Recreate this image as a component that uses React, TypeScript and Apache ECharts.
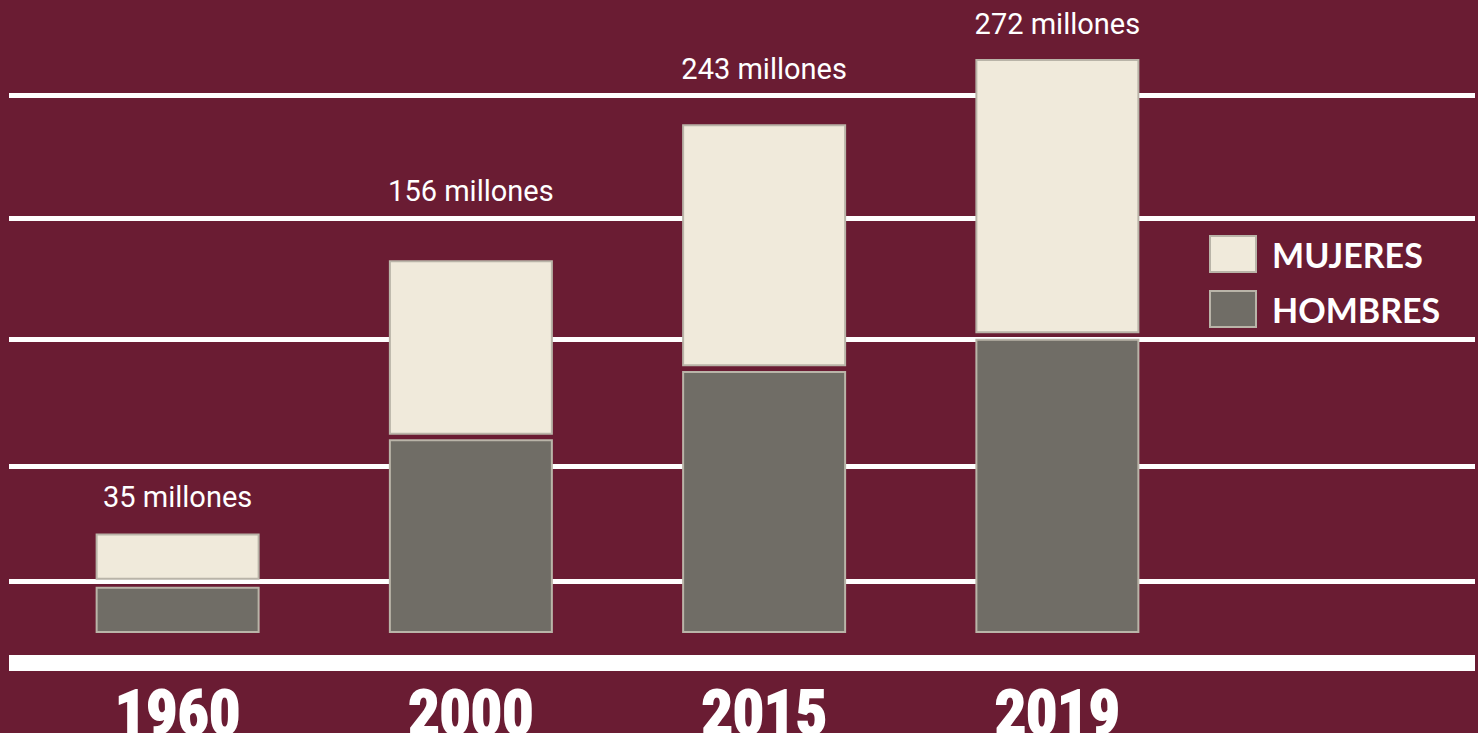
import React, { useEffect, useRef } from "react";
import * as echarts from "echarts";

// Categories (years)
const years = ["1960", "2000", "2015", "2019"];
// Totals written above the bars (millions)
const totals = [35, 156, 243, 272];
// Bar segment heights as drawn in the picture (same unit as the totals' scale)
const hombres = [21.9, 91.8, 124.2, 139.5];
const mujeres = [22.0, 82.7, 114.7, 129.9];
// Small visual separation between the two segments of each bar
const separation = [3.3, 2.2, 2.2, 2.6];
// Decorative horizontal rules (in value units)
const ruleLevels = [255.0, 196.4, 139.1, 79.2, 24.7];
const baseLevel = -14.1;
// Extra lift of each total label above its bar (px)
const labelLift = [22, 55, 41, 21];

const BG = "#6a1c33";
const LIGHT = "#f0eadb";
const DARK = "#706d66";
const EDGE = "#b9b4a8";

export default function App() {
  const ref = useRef<HTMLDivElement | null>(null);

  useEffect(() => {
    if (!ref.current) return;
    const chart = echarts.init(ref.current, null, { renderer: "svg" });
    const option: any = {
      animation: false,
      backgroundColor: BG,
      grid: [
        { left: 31, right: 274, top: 0, bottom: 100, containLabel: false, outerBoundsMode: "none" },
        { left: 9, right: 3, top: 0, bottom: 0, containLabel: false, outerBoundsMode: "none" },
      ],
      xAxis: [
        {
          type: "category",
          gridIndex: 0,
          data: years,
          axisLine: { show: false },
          axisTick: { show: false },
          splitLine: { show: false },
          axisLabel: {
            color: "#ffffff",
            fontSize: 62,
            lineHeight: 62,
            fontWeight: "bold",
            fontFamily: "'Liberation Sans Narrow', 'Roboto Condensed', Roboto, sans-serif",
            textBorderColor: "#ffffff",
            textBorderWidth: 2,
            margin: 48,
          },
        },
        {
          type: "value",
          gridIndex: 1,
          min: 0,
          max: 1,
          show: false,
        },
      ],
      yAxis: [
        { type: "value", gridIndex: 0, min: 0, max: 300, show: false },
        { type: "value", gridIndex: 1, min: -47.39, max: 300, show: false },
      ],
      legend: {
        data: ["MUJERES", "HOMBRES"],
        orient: "vertical",
        left: 1209,
        top: 235,
        padding: 0,
        icon: "rect",
        itemWidth: 46,
        itemHeight: 36,
        itemGap: 17,
        selectedMode: false,
        itemStyle: { borderColor: EDGE, borderWidth: 2 },
        textStyle: {
          color: "#ffffff",
          fontSize: 34,
          lineHeight: 36,
          fontWeight: "bold",
          fontFamily: "Lato, 'Open Sans', sans-serif",
          padding: [0, 0, 0, 11],
        },
      },
      series: [
        {
          name: "HOMBRES",
          type: "bar",
          stack: "total",
          barWidth: 164,
          z: 3,
          itemStyle: { color: DARK, borderColor: EDGE, borderWidth: 2 },
          data: hombres,
        },
        {
          name: "sep",
          type: "bar",
          stack: "total",
          barWidth: 164,
          silent: true,
          z: 3,
          itemStyle: { color: "rgba(0,0,0,0)", borderWidth: 0 },
          data: separation,
        },
        {
          name: "MUJERES",
          type: "bar",
          stack: "total",
          barWidth: 164,
          z: 3,
          itemStyle: { color: LIGHT, borderColor: EDGE, borderWidth: 2 },
          label: {
            show: true,
            position: "top",
            color: "#ffffff",
            fontSize: 29,
            lineHeight: 28,
            fontFamily: "Roboto, sans-serif",
            formatter: (p: any) => `${totals[p.dataIndex]} millones`,
          },
          data: mujeres.map((v, i) => ({ value: v, label: { distance: labelLift[i] } })),
        },
        {
          name: "rules",
          type: "line",
          xAxisIndex: 1,
          yAxisIndex: 1,
          data: [],
          silent: true,
          z: 1,
          markLine: {
            silent: true,
            symbol: "none",
            z: 1,
            label: { show: false },
            emphasis: { disabled: true },
            lineStyle: { color: "#ffffff", width: 5, type: "solid" },
            data: [
              ...ruleLevels.map((v) => ({ yAxis: v })),
              { yAxis: baseLevel, lineStyle: { color: "#ffffff", width: 16, type: "solid" } },
            ],
          },
        },
      ],
    };
    chart.setOption(option);
    return () => chart.dispose();
  }, []);

  return (
    <div
      ref={ref}
      style={{ position: "fixed", left: 0, top: 0, width: 1478, height: 733 }}
    />
  );
}
